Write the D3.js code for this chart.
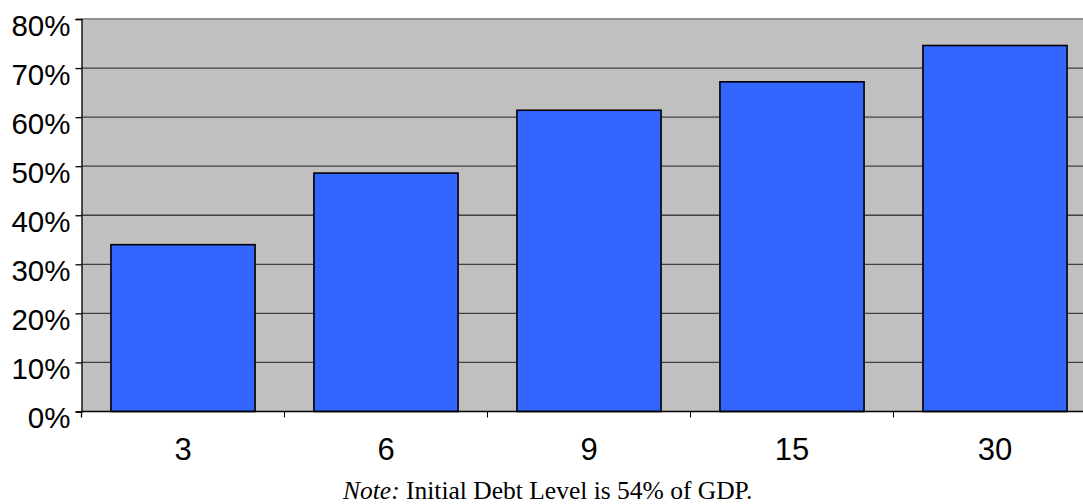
<!DOCTYPE html>
<html>
<head>
<meta charset="utf-8">
<script src="https://cdn.jsdelivr.net/npm/d3@7"></script>
<style>
  html, body { margin: 0; padding: 0; background: #fff; }
  svg { display: block; }
</style>
</head>
<body>
<svg id="chart" width="1083" height="504"></svg>
<script>
// Horizon (years) and the value plotted for each
const categories = ["3", "6", "9", "15", "30"];
const values = [0.340, 0.486, 0.614, 0.672, 0.746];
const yTicks = [0, 0.1, 0.2, 0.3, 0.4, 0.5, 0.6, 0.7, 0.8];

const svg = d3.select("#chart");
const plot = { left: 81.5, top: 19, bottom: 411.5, bandStep: 203 };

const x = d3.scaleBand()
  .domain(categories)
  .range([plot.left, plot.left + plot.bandStep * categories.length])
  .paddingInner(0.29)
  .paddingOuter(0.145);

const y = d3.scaleLinear().domain([0, 0.8]).range([plot.bottom, plot.top]);

// plot background
svg.append("rect")
  .attr("x", plot.left).attr("y", plot.top)
  .attr("width", plot.bandStep * categories.length)
  .attr("height", plot.bottom - plot.top)
  .attr("fill", "#c0c0c0");

// top edge of the plot area
svg.append("line")
  .attr("x1", plot.left).attr("x2", 1083)
  .attr("y1", plot.top - 0.5).attr("y2", plot.top - 0.5)
  .attr("stroke", "#d4d4d4").attr("stroke-width", 1);

// horizontal gridlines
svg.append("g")
  .selectAll("line")
  .data(yTicks.filter(d => d > 0))
  .join("line")
  .attr("x1", plot.left).attr("x2", 1083)
  .attr("y1", d => y(d)).attr("y2", d => y(d))
  .attr("stroke", d => d === 0.8 ? "#808080" : "#404040")
  .attr("stroke-width", 1.3);

// bars
svg.append("g")
  .selectAll("rect")
  .data(categories.map((c, i) => ({ c, v: values[i] })))
  .join("rect")
  .attr("x", d => x(d.c))
  .attr("y", d => y(d.v))
  .attr("width", x.bandwidth())
  .attr("height", d => y(0) - y(d.v))
  .attr("fill", "#3366ff")
  .attr("stroke", "#000")
  .attr("stroke-width", 1.6);

// y axis
const yAxis = d3.axisLeft(y)
  .tickValues(yTicks)
  .tickFormat(d3.format(".0%"))
  .tickSize(6)
  .tickPadding(5);
const gy = svg.append("g").attr("transform", `translate(${plot.left},0)`).call(yAxis);
gy.select(".domain").attr("stroke", "#000").attr("stroke-width", 1.3);
gy.selectAll(".tick line").attr("stroke", "#000").attr("stroke-width", 1.3);
gy.selectAll(".tick text")
  .attr("font-family", "'Liberation Sans', Arial, sans-serif")
  .attr("font-size", 29.5)
  .attr("fill", "#000")
  .attr("dy", "0.55em");

// x axis: ticks sit on band boundaries, labels centred in bands
const boundaries = categories.slice(1).map(c => x(c) - x.step() * x.paddingInner() / 2);
svg.append("line")
  .attr("x1", plot.left).attr("x2", 1083)
  .attr("y1", plot.bottom).attr("y2", plot.bottom)
  .attr("stroke", "#000").attr("stroke-width", 1.5);
svg.append("g")
  .selectAll("line")
  .data(boundaries)
  .join("line")
  .attr("x1", d => d).attr("x2", d => d)
  .attr("y1", plot.bottom).attr("y2", plot.bottom + 6)
  .attr("stroke", "#000").attr("stroke-width", 1);
svg.append("line")
  .attr("x1", plot.left).attr("x2", plot.left)
  .attr("y1", plot.bottom).attr("y2", plot.bottom + 6)
  .attr("stroke", "#000").attr("stroke-width", 1.3);

svg.append("g")
  .selectAll("text")
  .data(categories)
  .join("text")
  .attr("x", d => x(d) + x.bandwidth() / 2)
  .attr("y", 459.5)
  .attr("text-anchor", "middle")
  .attr("font-family", "'Liberation Sans', Arial, sans-serif")
  .attr("font-size", 31)
  .attr("fill", "#000")
  .text(d => d);

// footnote
const note = svg.append("text")
  .attr("x", 343).attr("y", 498.5)
  .attr("text-anchor", "start")
  .attr("font-family", "'Liberation Serif', 'Times New Roman', serif")
  .attr("font-size", 25.5)
  .attr("fill", "#000");
note.append("tspan").attr("font-style", "italic").text("Note:");
note.append("tspan").text(" Initial Debt Level is 54% of GDP.");
</script>
</body>
</html>
